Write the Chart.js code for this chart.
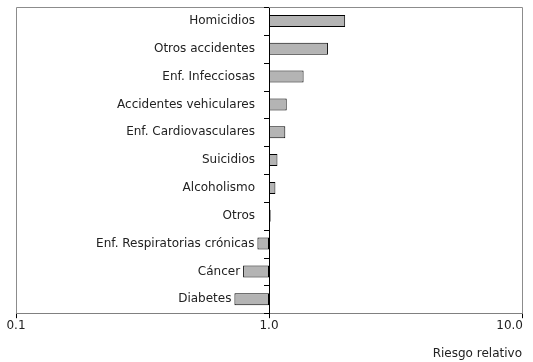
<!DOCTYPE html>
<html>
<head>
<meta charset="utf-8">
<script src="https://cdn.jsdelivr.net/npm/chart.js@4"></script>
<style>
  html, body { margin: 0; padding: 0; background: #fff; }
  #wrap { width: 533px; height: 362px; }
</style>
</head>
<body>
<div id="wrap"><canvas id="chart"></canvas></div>
<script>
// Riesgo relativo por causa de muerte
const categorias = [
  "Homicidios", "Otros accidentes", "Enf. Infecciosas", "Accidentes vehiculares",
  "Enf. Cardiovasculares", "Suicidios", "Alcoholismo", "Otros",
  "Enf. Respiratorias crónicas", "Cáncer", "Diabetes"
];
const riesgo = [2.0, 1.71, 1.37, 1.175, 1.16, 1.08, 1.06, 1.015, 0.90, 0.79, 0.73];
const base = 1;
const xTicks = [0.1, 1, 10];

const fuente = { family: "DejaVu Sans, Verdana, sans-serif", size: 12 };
const fuenteCss = "12px DejaVu Sans, Verdana, sans-serif";

// gray frame around the plot area, plus category labels/ticks next to the 1.0 axis
const marco = {
  id: "marco",
  beforeDatasetsDraw(chart) {
    const { ctx, chartArea: a } = chart;
    ctx.save();
    ctx.strokeStyle = "#8c8c8c";
    ctx.lineWidth = 1;
    ctx.beginPath();
    ctx.moveTo(Math.round(a.left) + 0.5, Math.round(a.bottom));
    ctx.lineTo(Math.round(a.left) + 0.5, Math.round(a.top) + 0.5);
    ctx.lineTo(Math.round(a.right) + 0.5, Math.round(a.top) + 0.5);
    ctx.lineTo(Math.round(a.right) + 0.5, Math.round(a.bottom));
    ctx.stroke();
    ctx.restore();
  },
  afterDraw(chart) {
    const { ctx } = chart;
    const xs = chart.scales.x, ys = chart.scales.y;
    const x0 = Math.round(xs.getPixelForValue(base));
    ctx.save();
    ctx.strokeStyle = "#000";
    ctx.lineWidth = 1;
    ctx.beginPath();
    for (let i = 0; i <= categorias.length; i++) {
      const y = Math.round(ys.getPixelForValue(i - 0.5)) + 0.5;
      ctx.moveTo(x0 - 5, y);
      ctx.lineTo(x0, y);
    }
    ctx.stroke();
    ctx.font = fuenteCss;
    ctx.fillStyle = "#222";
    ctx.textAlign = "right";
    ctx.textBaseline = "middle";
    categorias.forEach((c, i) => {
      const barLeft = xs.getPixelForValue(Math.min(base, riesgo[i]));
      const x = Math.min(x0 - 14, barLeft - 3);
      ctx.fillText(c, x, ys.getPixelForValue(i));
    });
    // x tick labels: first/middle centred, last one right-aligned on its tick
    xTicks.forEach((v, i) => {
      const px = xs.getPixelForValue(v);
      ctx.textAlign = i === xTicks.length - 1 ? "right" : "center";
      ctx.fillText(v.toFixed(1), i === xTicks.length - 1 ? px + 1 : px, xs.top + 13);
    });
    ctx.restore();
  }
};

new Chart(document.getElementById("chart"), {
  type: "bar",
  data: {
    labels: categorias,
    datasets: [{
      data: riesgo.map(v => [base, v]),
      backgroundColor: "#b4b4b4",
      borderColor: "#000",
      borderWidth: 1,
      borderSkipped: false,
      barPercentage: 0.43,
      categoryPercentage: 1
    }]
  },
  options: {
    indexAxis: "y",
    responsive: true,
    maintainAspectRatio: false,
    animation: false,
    layout: { padding: { left: 16, top: 7, right: 11, bottom: 1 } },
    plugins: { legend: { display: false }, tooltip: { enabled: false } },
    scales: {
      x: {
        type: "logarithmic",
        min: 0.1,
        max: 10,
        afterBuildTicks: s => { s.ticks = xTicks.map(v => ({ value: v })); },
        afterFit: s => { s.paddingLeft = 0; s.paddingRight = 0; },
        grid: { drawOnChartArea: false, tickLength: 5, tickColor: "#000" },
        border: { color: "#808080" },
        ticks: {
          color: "rgba(0,0,0,0)", font: fuente, padding: 1, maxRotation: 0, autoSkip: false,
          callback: v => Number(v).toFixed(1)
        },
        title: {
          display: true, text: "Riesgo relativo", align: "end",
          color: "#222", font: fuente, padding: { top: 12, bottom: 0 }
        }
      },
      y: {
        position: { x: base },
        grid: { drawOnChartArea: false, drawTicks: false },
        border: { color: "#000" },
        ticks: { display: false }
      }
    }
  },
  plugins: [marco]
});
</script>
</body>
</html>
